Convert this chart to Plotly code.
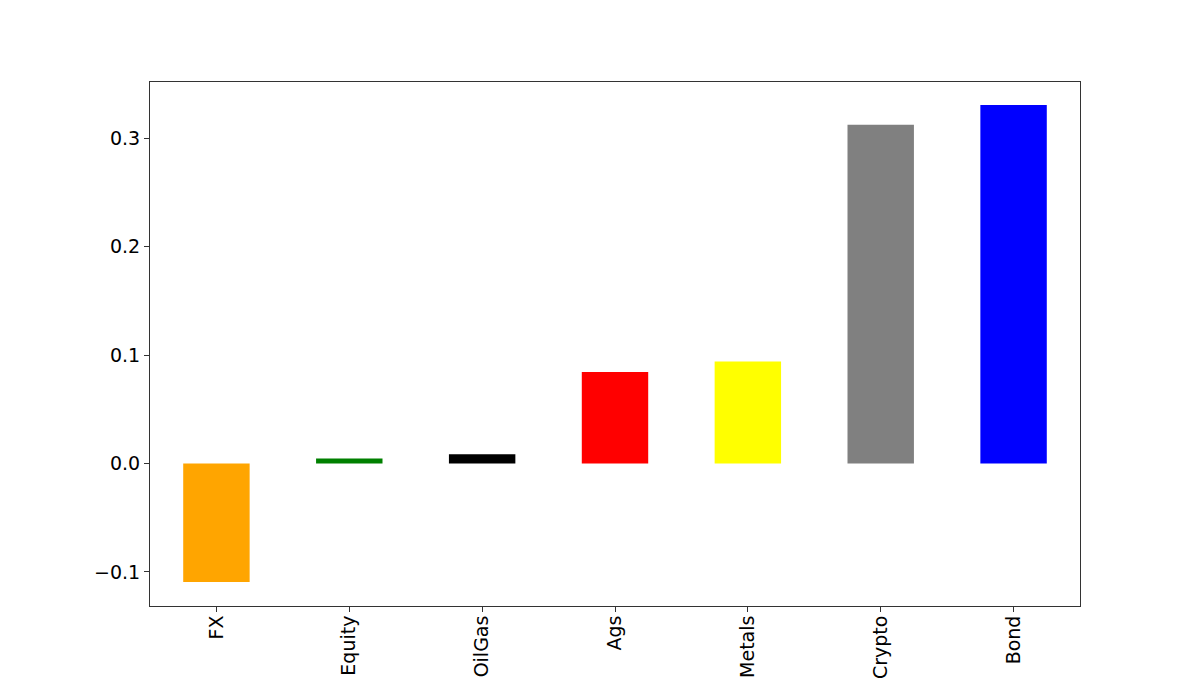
import plotly.graph_objects as go

# asset classes, sorted by value
categories = ["FX", "Equity", "OilGas", "Ags", "Metals", "Crypto", "Bond"]
values = [-0.1093, 0.0046, 0.0086, 0.0843, 0.0941, 0.3123, 0.3305]
bar_colors = ["orange", "green", "black", "red", "yellow", "gray", "blue"]
y_ticks = [-0.1, 0.0, 0.1, 0.2, 0.3]

fig = go.Figure(
    go.Bar(x=categories, y=values, marker_color=bar_colors,
           marker_line_width=0, width=0.5)
)

axis_style = dict(showline=True, linecolor="#333333", linewidth=1, mirror=True,
                  ticks="outside", ticklen=5, tickcolor="#333333",
                  showgrid=False, zeroline=False, automargin=False,
                  tickfont=dict(family="DejaVu Sans", size=19, color="black"))

fig.update_xaxes(range=[-0.5, 6.5], tickangle=-90, ticklabelstandoff=-4,
                 **axis_style)
fig.update_yaxes(range=[-0.1314, 0.3517], tickvals=y_ticks,
                 ticktext=[f"{v:.1f}".replace("-", "\u2212") for v in y_ticks],
                 **axis_style)

# page body adds an 8px margin, so the figure is a bit smaller than the window
fig.update_layout(width=1192, height=673,
                  margin=dict(l=142, r=120, t=74, b=75),
                  plot_bgcolor="white", paper_bgcolor="white",
                  showlegend=False)

fig.write_html("out.html")
